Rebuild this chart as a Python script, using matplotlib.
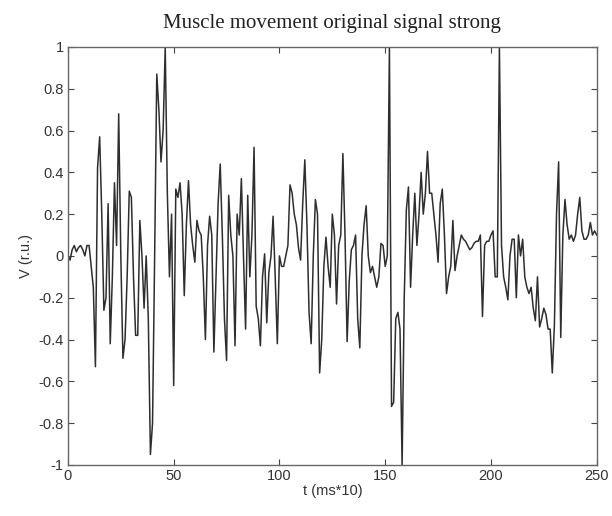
import numpy as np
import matplotlib
matplotlib.use('Agg')
import matplotlib.pyplot as plt

# EMG sample values, one per time step (ms*10)
v = [0.0, -0.02, 0.03, 0.05, 0.02, 0.04, 0.05, 0.03, 0.0, 0.05,
     0.05, -0.05, -0.15, -0.53, 0.42, 0.57, 0.2, -0.26, -0.2, 0.25,
     -0.42, -0.1, 0.35, 0.05, 0.68, 0.0, -0.49, -0.4, -0.1, 0.31,
     0.28, -0.1, -0.38, -0.38, 0.17, 0.0, -0.25, 0.0, -0.3, -0.95,
     -0.8, 0.0, 0.87, 0.7, 0.45, 0.6, 1.0, 0.3, -0.1, 0.2,
     -0.62, 0.32, 0.28, 0.35, 0.2, -0.19, 0.15, 0.36, 0.15, 0.05,
     -0.03, 0.17, 0.12, 0.1, -0.1, -0.4, 0.05, 0.19, 0.1, -0.46,
     -0.1, 0.25, 0.44, 0.1, -0.3, -0.5, 0.29, 0.1, 0.0, -0.43,
     0.2, 0.1, 0.37, 0.0, -0.35, 0.29, -0.1, 0.1, 0.52, -0.24,
     -0.3, -0.43, -0.1, 0.01, -0.32, -0.08, 0.0, 0.19, -0.1, -0.42,
     0.0, -0.05, -0.05, 0.0, 0.05, 0.34, 0.3, 0.2, 0.15, 0.04,
     -0.02, 0.25, 0.46, 0.15, -0.27, -0.42, 0.0, 0.27, 0.2, -0.56,
     -0.4, -0.05, 0.09, -0.05, -0.15, 0.2, 0.1, -0.23, 0.05, 0.1,
     0.49, 0.1, -0.41, -0.12, 0.03, 0.05, 0.1, -0.3, -0.44, 0.0,
     0.15, 0.24, 0.0, -0.08, -0.05, -0.1, -0.15, -0.1, 0.06, 0.05,
     -0.05, 0.0, 1.0, -0.72, -0.7, -0.3, -0.27, -0.35, -1.0, -0.2,
     0.22, 0.33, -0.15, 0.1, 0.3, 0.05, 0.2, 0.4, 0.2, 0.3,
     0.5, 0.3, 0.3, 0.2, 0.1, -0.03, 0.25, 0.32, 0.1, -0.18,
     -0.1, -0.05, 0.17, -0.07, 0.0, 0.05, 0.1, 0.08, 0.07, 0.05,
     0.03, 0.04, 0.06, 0.07, 0.07, 0.1, -0.29, 0.05, 0.07, 0.07,
     0.1, 0.12, -0.1, -0.1, 1.0, 0.05, -0.1, -0.15, -0.21, 0.0,
     0.08, 0.08, -0.2, 0.1, 0.0, 0.08, -0.1, -0.15, -0.18, -0.15,
     -0.25, -0.31, -0.1, -0.34, -0.3, -0.25, -0.28, -0.35, -0.35, -0.56,
     -0.33, 0.2, 0.45, -0.39, 0.1, 0.27, 0.15, 0.08, 0.1, 0.07,
     0.1, 0.2, 0.28, 0.12, 0.08, 0.08, 0.1, 0.16, 0.1, 0.12,
     0.1]
t = np.arange(len(v))

xticks = [0, 50, 100, 150, 200, 250]
yticks = [-1, -0.8, -0.6, -0.4, -0.2, 0, 0.2, 0.4, 0.6, 0.8, 1]
ylabels = ['-1', '-0.8', '-0.6', '-0.4', '-0.2', '0', '0.2', '0.4', '0.6', '0.8', '1']

plt.rcParams['font.family'] = ['Liberation Sans', 'DejaVu Sans']

fig = plt.figure(figsize=(6.12, 5.16), dpi=100)
ax = fig.add_axes([0.111, 0.099, 0.864, 0.810])

ax.plot(t, v, color='#2e2e2e', linewidth=1.1)

ax.set_xlim(0, 250)
ax.set_ylim(-1, 1)
ax.set_xticks(xticks)
ax.set_yticks(yticks)
ax.set_yticklabels(ylabels)
ax.tick_params(direction='in', top=True, right=True, length=4,
               labelsize=10.5, color='#444444', labelcolor='#333333', pad=3)
for s in ax.spines.values():
    s.set_color('#666666')
    s.set_linewidth(1.0)

ax.set_title('Muscle movement original signal strong', family='Liberation Serif',
             fontsize=15, pad=14, color='#222222')
ax.set_xlabel('t (ms*10)', fontsize=10.5, color='#333333', labelpad=1)
ax.set_ylabel('V (r.u.)', fontsize=10.5, color='#333333', labelpad=4)

fig.savefig('out.png', dpi=100)
